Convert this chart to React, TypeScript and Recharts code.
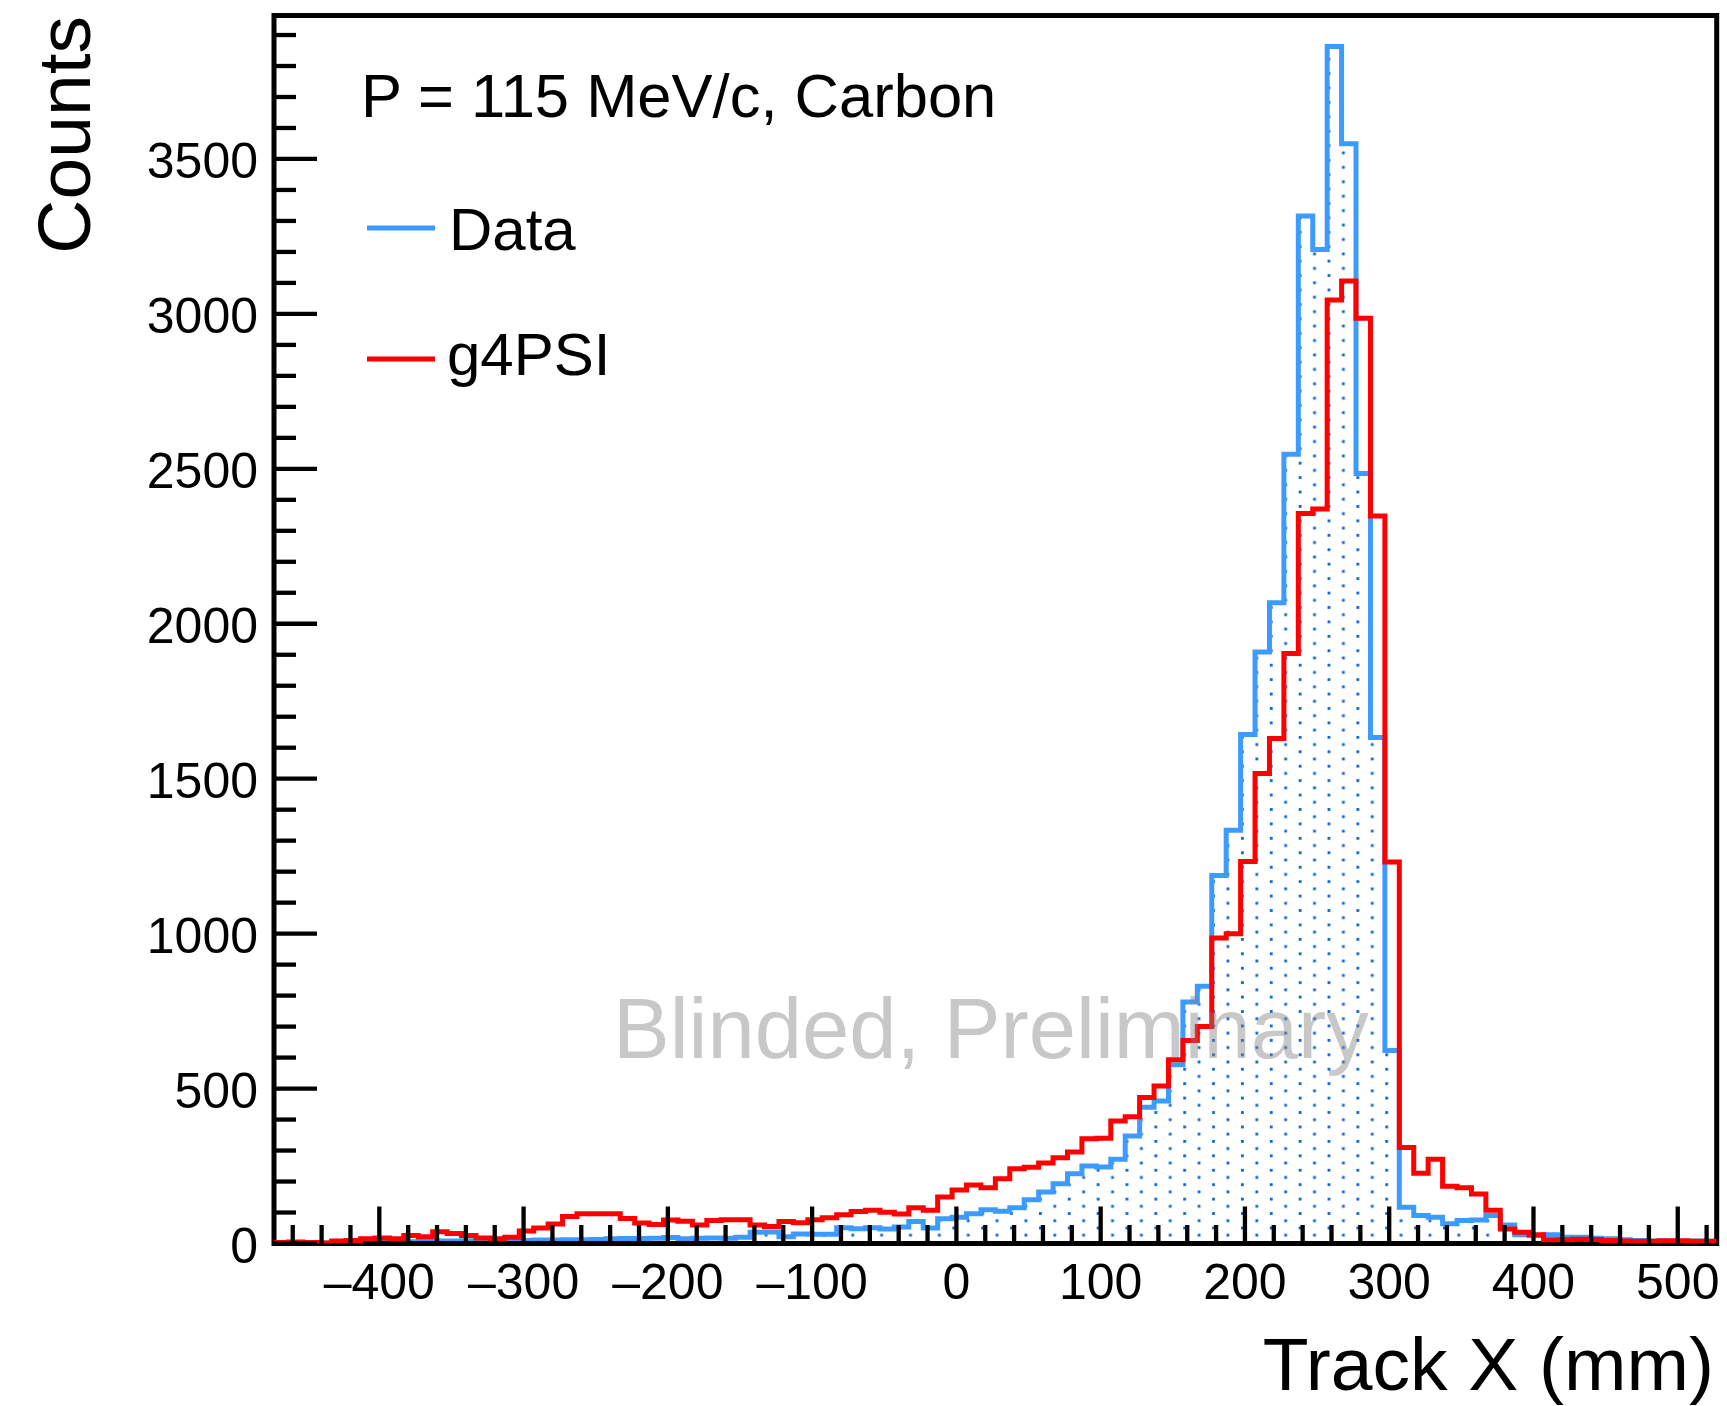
import { ComposedChart, Area, Line, XAxis, YAxis, ReferenceArea } from 'recharts';

// bin low edges (mm), last entry closes the final bin
const binEdges = [
  -473, -463, -453, -443, -433, -423, -413, -403, -393, -383,
  -373, -363, -353, -343, -333, -323, -313, -303, -293, -283,
  -273, -263, -253, -243, -233, -223, -213, -203, -193, -183,
  -173, -163, -153, -143, -133, -123, -113, -103, -93, -83,
  -73, -63, -53, -43, -33, -23, -13, -3, 7, 17,
  27, 37, 47, 57, 67, 77, 87, 97, 107, 117,
  127, 137, 147, 157, 167, 177, 187, 197, 207, 217,
  227, 237, 247, 257, 267, 277, 287, 297, 307, 317,
  327, 337, 347, 357, 367, 377, 387, 397, 407, 417,
  427, 437, 447, 457, 467, 477, 487, 497, 507, 517,
  527,
];

const dataCounts = [
  1, 1, 1, 2, 2, 2, 3, 3, 4, 6,
  7, 8, 8, 9, 9, 10, 10, 10, 11, 11,
  12, 12, 13, 15, 16, 16, 17, 19, 15, 17,
  18, 17, 20, 36, 37, 22, 31, 30, 30, 51,
  48, 51, 47, 53, 71, 50, 80, 85, 96, 109,
  104, 115, 141, 166, 193, 225, 250, 247, 272, 347,
  440, 460, 577, 779, 830, 1188, 1334, 1643, 1909, 2068,
  2547, 3316, 3208, 3863, 3549, 2485, 1633, 623, 117, 90,
  85, 64, 74, 76, 90, 60, 28, 26, 28, 20,
  20, 17, 15, 12, 10, 8, 8, 7, 8, 7,
];

const g4psiCounts = [
  3, 5, 3, 2, 8, 10, 15, 18, 15, 26,
  22, 38, 32, 26, 18, 15, 20, 40, 50, 63,
  87, 96, 96, 96, 81, 66, 61, 76, 72, 60,
  74, 77, 77, 60, 55, 71, 67, 77, 83, 93,
  103, 107, 101, 95, 115, 107, 150, 173, 189, 180,
  209, 241, 246, 260, 277, 295, 338, 340, 395, 409,
  471, 508, 593, 655, 700, 986, 1000, 1233, 1517, 1630,
  1904, 2356, 2370, 3045, 3106, 2986, 2348, 1231, 310, 227,
  272, 185, 180, 160, 107, 47, 36, 28, 12, 12,
  14, 13, 10, 8, 7, 7, 9, 9, 7, 7,
];

const xLabelTicks = [-400, -300, -200, -100, 0, 100, 200, 300, 400, 500];
const yLabelTicks = [0, 500, 1000, 1500, 2000, 2500, 3000, 3500];

const xDomain = [-473, 527];
const yDomain = [0, 3963];

// minor tick grid: every 20 mm on x, every 100 counts on y
const xTicks = Array.from({ length: 50 }, (_, k) => -460 + 20 * k);
const yTicks = Array.from({ length: 40 }, (_, k) => 100 * k);

const rows = binEdges.map((x, i) => ({
  x,
  data: dataCounts[Math.min(i, dataCounts.length - 1)],
  sim: g4psiCounts[Math.min(i, g4psiCounts.length - 1)],
}));

const FONT = '"Liberation Sans", Arial, Helvetica, sans-serif';
const BLUE = '#3d9bff';
const RED = '#ff0000';

const fmt = (v: number) => (v < 0 ? '\u2013' + Math.abs(v) : String(v));

function XTick(props: any) {
  const { x, y, payload } = props;
  const major = xLabelTicks.includes(payload.value);
  return (
    <g>
      <line x1={x} x2={x} y1={y} y2={y - (major ? 37 : 18.5)} stroke="#000" strokeWidth={4.3} />
      {major && (
        <text x={x} y={y + 55} textAnchor="middle" fontSize={50} fontFamily={FONT} fill="#000">
          {fmt(payload.value)}
        </text>
      )}
    </g>
  );
}

function YTick(props: any) {
  const { x, y, payload } = props;
  const major = yLabelTicks.includes(payload.value);
  return (
    <g>
      <line x1={x} x2={x + (major ? 43 : 22)} y1={y} y2={y} stroke="#000" strokeWidth={4.3} />
      {major && (
        <text x={x - 16} y={y + 19} textAnchor="end" fontSize={50} fontFamily={FONT} fill="#000">
          {fmt(payload.value)}
        </text>
      )}
    </g>
  );
}

export default function App() {
  return (
    <div style={{ position: 'absolute', left: 0, top: 0, width: 1727, height: 1406, background: '#fff' }}>
      <svg width={0} height={0} style={{ position: 'absolute' }}>
        <defs>
          <pattern id="dots" patternUnits="userSpaceOnUse" width={28.86} height={14.43}>
            <rect x={0} y={0} width={2.8} height={2.8} fill="#0a66cc" />
            <rect x={14.43} y={7.21} width={2.8} height={2.8} fill="#0a66cc" />
          </pattern>
        </defs>
      </svg>

      <ComposedChart
        width={1727}
        height={1406}
        data={rows}
        margin={{ top: 15.5, right: 10.3, bottom: 12.5, left: 14 }}
      >
        <XAxis
          dataKey="x"
          type="number"
          domain={xDomain}
          ticks={xTicks}
          interval={0}
          allowDataOverflow
          axisLine={false}
          tickLine={false}
          tickSize={0}
          tickMargin={0}
          height={150}
          tick={(p: any) => <XTick {...p} />}
        />
        <YAxis
          type="number"
          domain={yDomain}
          ticks={yTicks}
          interval={0}
          allowDataOverflow
          axisLine={false}
          tickLine={false}
          tickSize={0}
          tickMargin={0}
          width={260}
          tick={(p: any) => <YTick {...p} />}
        />
        <Area
          type="stepAfter"
          dataKey="data"
          name="Data"
          stroke={BLUE}
          strokeWidth={5}
          fill="url(#dots)"
          fillOpacity={1}
          dot={false}
          activeDot={false}
          isAnimationActive={false}
        />
        <Line
          type="stepAfter"
          dataKey="sim"
          name="g4PSI"
          stroke={RED}
          strokeWidth={5}
          dot={false}
          activeDot={false}
          isAnimationActive={false}
        />
        <ReferenceArea
          x1={xDomain[0]}
          x2={xDomain[1]}
          y1={yDomain[0]}
          y2={yDomain[1]}
          fill="none"
          stroke="#000"
          strokeWidth={5}
          ifOverflow="visible"
        />
      </ComposedChart>

      <svg
        width={1727}
        height={1406}
        style={{ position: 'absolute', left: 0, top: 0, pointerEvents: 'none' }}
        fontFamily={FONT}
      >
        <text x={90} y={16} fontSize={75} textAnchor="end" transform="rotate(-90 90 16)">
          Counts
        </text>
        <text x={1714} y={1390} fontSize={75} textAnchor="end">
          Track X (mm)
        </text>
        <text x={361} y={117} fontSize={61.5}>
          P = 115 MeV/c, Carbon
        </text>
        <line x1={367} x2={435} y1={228} y2={228} stroke={BLUE} strokeWidth={5} />
        <text x={449} y={250} fontSize={60}>
          Data
        </text>
        <line x1={367} x2={435} y1={359} y2={359} stroke={RED} strokeWidth={5} />
        <text x={447} y={375} fontSize={60}>
          g4PSI
        </text>
        <text x={613} y={1058} fontSize={85} fill="#808080" fillOpacity={0.43}>
          Blinded, Preliminary
        </text>
      </svg>
    </div>
  );
}
